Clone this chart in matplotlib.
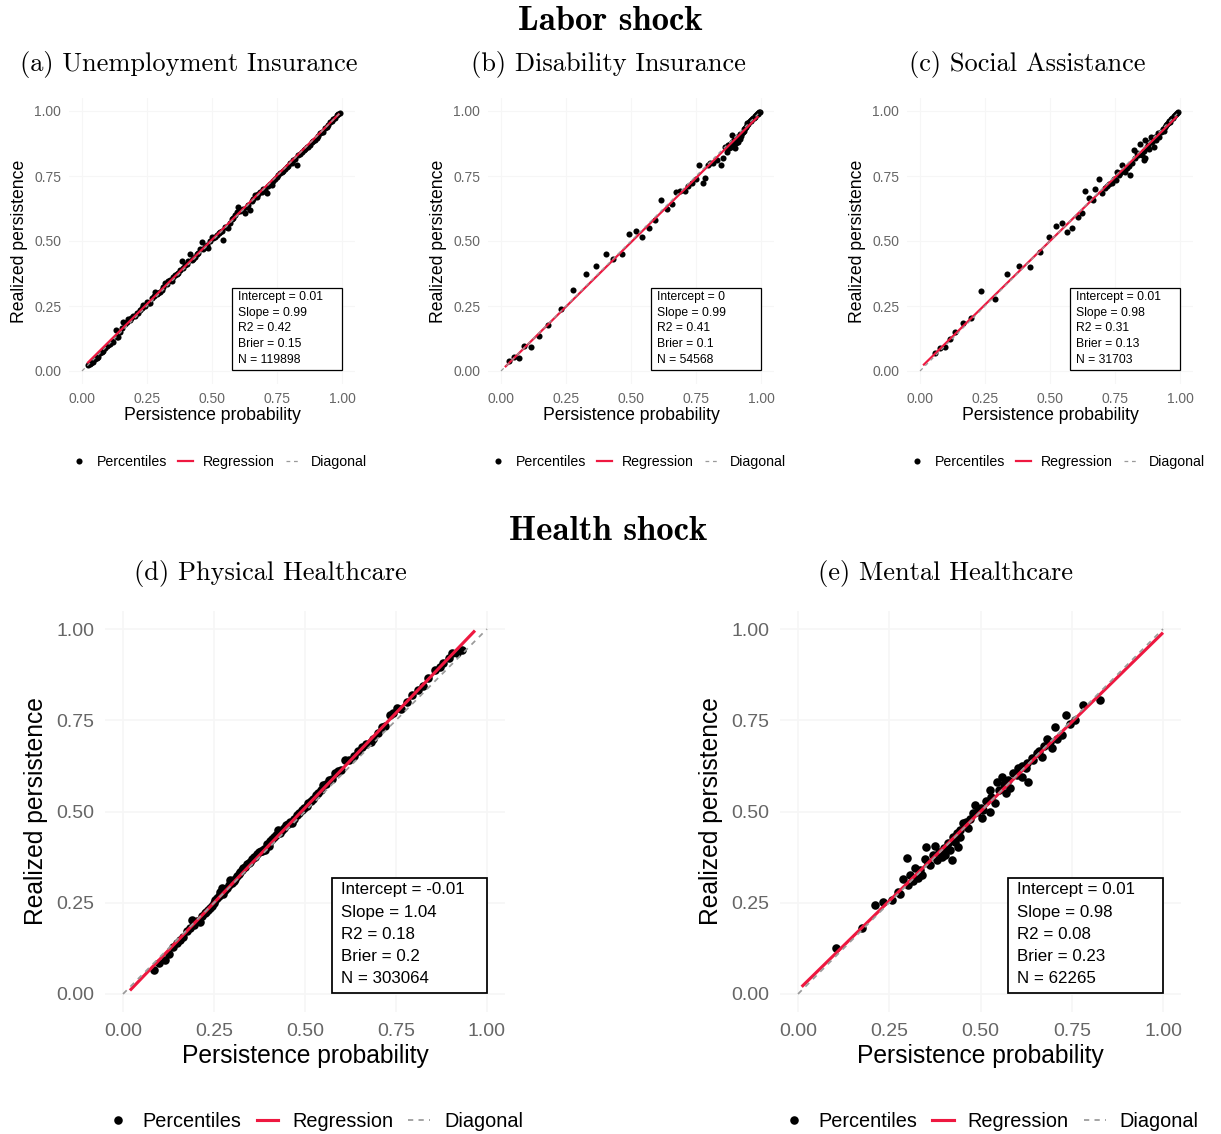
import numpy as np
import matplotlib.pyplot as plt
from matplotlib.lines import Line2D
from matplotlib.patches import Rectangle

plt.rcParams['font.family'] = ['Liberation Sans', 'DejaVu Sans']

# ---- data ----
# (a) Unemployment Insurance
ui_x = [0.024, 0.03, 0.036, 0.044, 0.05, 0.056, 0.063, 0.07, 0.076, 0.082, 0.088, 0.095, 0.1, 0.107,
        0.114, 0.12, 0.129, 0.133, 0.14, 0.147, 0.153, 0.159, 0.165, 0.172, 0.178, 0.185, 0.19, 0.197,
        0.205, 0.211, 0.217, 0.224, 0.23, 0.236, 0.243, 0.249, 0.256, 0.263, 0.27, 0.276, 0.281, 0.288,
        0.294, 0.3, 0.307, 0.313, 0.319, 0.326, 0.332, 0.338, 0.345, 0.351, 0.358, 0.365, 0.371, 0.377,
        0.383, 0.39, 0.396, 0.403, 0.409, 0.415, 0.422, 0.428, 0.435, 0.441, 0.448, 0.454, 0.46, 0.467,
        0.473, 0.48, 0.486, 0.492, 0.499, 0.505, 0.512, 0.518, 0.525, 0.531, 0.537, 0.544, 0.55, 0.556,
        0.563, 0.569, 0.575, 0.582, 0.588, 0.595, 0.601, 0.608, 0.614, 0.62, 0.627, 0.633, 0.64, 0.646,
        0.652, 0.659, 0.665, 0.672, 0.678, 0.685, 0.691, 0.698, 0.704, 0.71, 0.717, 0.723, 0.73, 0.736,
        0.742, 0.749, 0.755, 0.761, 0.768, 0.774, 0.78, 0.787, 0.793, 0.8, 0.806, 0.813, 0.82, 0.826,
        0.832, 0.839, 0.845, 0.852, 0.858, 0.864, 0.87, 0.877, 0.884, 0.89, 0.897, 0.903, 0.909, 0.916,
        0.922, 0.928, 0.935, 0.941, 0.948, 0.954, 0.96, 0.967, 0.973, 0.98, 0.986, 0.992]
ui_y = [0.023, 0.028, 0.03, 0.036, 0.045, 0.05, 0.055, 0.068, 0.072, 0.078, 0.09, 0.096, 0.1, 0.105,
        0.117, 0.112, 0.158, 0.13, 0.132, 0.15, 0.165, 0.19, 0.182, 0.188, 0.2, 0.195, 0.205, 0.212,
        0.21, 0.225, 0.222, 0.235, 0.242, 0.254, 0.25, 0.267, 0.26, 0.262, 0.28, 0.29, 0.305, 0.298,
        0.3, 0.305, 0.31, 0.322, 0.34, 0.335, 0.345, 0.35, 0.348, 0.362, 0.369, 0.372, 0.378, 0.39,
        0.423, 0.395, 0.408, 0.41, 0.425, 0.45, 0.428, 0.432, 0.44, 0.45, 0.455, 0.468, 0.497, 0.47,
        0.478, 0.485, 0.472, 0.5, 0.517, 0.51, 0.515, 0.525, 0.53, 0.536, 0.54, 0.504, 0.552, 0.555,
        0.549, 0.57, 0.585, 0.59, 0.6, 0.61, 0.632, 0.615, 0.62, 0.625, 0.606, 0.63, 0.64, 0.619,
        0.655, 0.66, 0.677, 0.67, 0.68, 0.688, 0.69, 0.7, 0.695, 0.683, 0.71, 0.72, 0.715, 0.73,
        0.74, 0.745, 0.754, 0.762, 0.767, 0.77, 0.778, 0.785, 0.79, 0.8, 0.799, 0.81, 0.815, 0.792,
        0.83, 0.835, 0.844, 0.85, 0.855, 0.86, 0.863, 0.87, 0.88, 0.885, 0.89, 0.895, 0.905, 0.915,
        0.918, 0.92, 0.935, 0.94, 0.945, 0.959, 0.962, 0.968, 0.975, 0.985, 0.99, 0.994]

# (b) Disability Insurance
di_x = [0.031, 0.051, 0.07, 0.09, 0.114, 0.146, 0.182, 0.231, 0.278, 0.326, 0.365, 0.403, 0.432, 0.464,
        0.494, 0.518, 0.542, 0.568, 0.592, 0.614, 0.637, 0.656, 0.673, 0.688, 0.708, 0.72, 0.733, 0.75,
        0.762, 0.778, 0.785, 0.797, 0.805, 0.817, 0.83, 0.845, 0.855, 0.862,
        0.868, 0.872, 0.876, 0.88, 0.884, 0.888, 0.89, 0.894, 0.897, 0.9, 0.903, 0.906, 0.909, 0.912,
        0.915, 0.918, 0.921, 0.924, 0.927, 0.93, 0.933, 0.936, 0.939, 0.942, 0.945, 0.948, 0.951, 0.954,
        0.957, 0.96, 0.963, 0.966, 0.969, 0.972, 0.975, 0.978, 0.981, 0.984, 0.987, 0.99, 0.993, 0.996]
di_y = [0.038, 0.055, 0.051, 0.096, 0.094, 0.136, 0.177, 0.24, 0.312, 0.372, 0.405, 0.449, 0.43, 0.45,
        0.528, 0.538, 0.517, 0.549, 0.581, 0.658, 0.624, 0.641, 0.687, 0.692, 0.694, 0.71, 0.722, 0.74,
        0.792, 0.722, 0.744, 0.792, 0.8, 0.799, 0.81, 0.792, 0.818, 0.863,
        0.843, 0.87, 0.856, 0.875, 0.86, 0.908, 0.88, 0.868, 0.89, 0.856, 0.878, 0.887, 0.9, 0.879,
        0.895, 0.91, 0.892, 0.905, 0.915, 0.92, 0.925, 0.93, 0.935, 0.94, 0.945, 0.952, 0.95, 0.956,
        0.96, 0.965, 0.962, 0.97, 0.972, 0.975, 0.978, 0.98, 0.984, 0.987, 0.99, 0.993, 0.996, 0.998]

# (c) Social Assistance
sa_x = [0.059, 0.078, 0.097, 0.117, 0.136, 0.164, 0.197, 0.236, 0.287, 0.335, 0.382, 0.424, 0.463, 0.495,
        0.524, 0.546, 0.565, 0.585, 0.606, 0.623, 0.633, 0.649, 0.665, 0.674, 0.687, 0.7,
        0.71, 0.72, 0.728, 0.738, 0.745, 0.752, 0.758, 0.765, 0.77, 0.777, 0.785, 0.79, 0.798, 0.803,
        0.809, 0.815, 0.822, 0.828, 0.835, 0.84, 0.847, 0.854, 0.86, 0.862, 0.867, 0.867, 0.872, 0.877,
        0.881, 0.886, 0.89, 0.894, 0.899, 0.905, 0.909, 0.913, 0.917, 0.921, 0.925, 0.929, 0.933, 0.937,
        0.941, 0.945, 0.949, 0.953, 0.957, 0.961, 0.965, 0.969, 0.973, 0.977, 0.981, 0.985, 0.989, 0.993]
sa_y = [0.068, 0.087, 0.091, 0.122, 0.151, 0.186, 0.203, 0.309, 0.276, 0.373, 0.405, 0.399, 0.456, 0.517,
        0.558, 0.568, 0.536, 0.549, 0.594, 0.607, 0.694, 0.664, 0.658, 0.699, 0.737, 0.683,
        0.705, 0.71, 0.72, 0.724, 0.74, 0.735, 0.767, 0.755, 0.76, 0.792, 0.77, 0.767, 0.78, 0.79,
        0.754, 0.8, 0.85, 0.82, 0.837, 0.83, 0.872, 0.831, 0.845, 0.81, 0.818, 0.888, 0.86, 0.87,
        0.855, 0.879, 0.9, 0.88, 0.863, 0.901, 0.89, 0.905, 0.915, 0.9, 0.92, 0.925, 0.93, 0.922,
        0.94, 0.945, 0.95, 0.955, 0.96, 0.958, 0.968, 0.972, 0.975, 0.98, 0.985, 0.99, 0.993, 0.997]

# (d) Physical Healthcare
ph_x = [0.086, 0.1, 0.115, 0.125, 0.138, 0.147, 0.156, 0.166, 0.175, 0.183, 0.189, 0.196, 0.204, 0.212,
        0.218, 0.224, 0.229, 0.234, 0.239, 0.244, 0.249, 0.254, 0.258, 0.263, 0.267, 0.271, 0.276, 0.28,
        0.285, 0.29, 0.294, 0.299, 0.304, 0.309, 0.314, 0.318, 0.322, 0.326, 0.331, 0.336, 0.34, 0.345,
        0.35, 0.355, 0.359, 0.363, 0.368, 0.373, 0.378, 0.383, 0.388, 0.39, 0.395, 0.4, 0.405, 0.41,
        0.416, 0.421, 0.427, 0.432, 0.437, 0.442, 0.448, 0.453, 0.458, 0.463, 0.47, 0.477, 0.484, 0.491,
        0.498, 0.505, 0.509, 0.516, 0.523, 0.53, 0.537, 0.544, 0.55, 0.558, 0.566, 0.574, 0.582, 0.59,
        0.598, 0.61, 0.622, 0.635, 0.645, 0.656, 0.668, 0.68, 0.688, 0.7, 0.711, 0.72, 0.734, 0.743,
        0.752, 0.765, 0.78, 0.793, 0.81, 0.825, 0.839, 0.857, 0.87, 0.88, 0.895, 0.903, 0.918, 0.93]
ph_y = [0.066, 0.085, 0.093, 0.11, 0.128, 0.139, 0.148, 0.157, 0.172, 0.18, 0.203, 0.19, 0.2, 0.198,
        0.215, 0.222, 0.226, 0.23, 0.235, 0.242, 0.25, 0.257, 0.262, 0.268, 0.28, 0.29, 0.275, 0.285,
        0.29, 0.3, 0.312, 0.305, 0.31, 0.315, 0.322, 0.328, 0.333, 0.34, 0.345, 0.348, 0.355, 0.36,
        0.362, 0.37, 0.374, 0.376, 0.384, 0.388, 0.392, 0.393, 0.398, 0.395, 0.41, 0.405, 0.418, 0.425,
        0.43, 0.435, 0.449, 0.44, 0.448, 0.455, 0.462, 0.465, 0.47, 0.468, 0.48, 0.49, 0.495, 0.505,
        0.51, 0.515, 0.522, 0.53, 0.535, 0.545, 0.55, 0.56, 0.573, 0.575, 0.585, 0.59, 0.605, 0.612,
        0.615, 0.641, 0.64, 0.652, 0.665, 0.678, 0.685, 0.69, 0.7, 0.715, 0.732, 0.735, 0.764, 0.77,
        0.783, 0.78, 0.8, 0.819, 0.832, 0.845, 0.865, 0.888, 0.895, 0.906, 0.92, 0.933, 0.935, 0.942]

# (e) Mental Healthcare
mh_x = [0.104, 0.174, 0.211, 0.234, 0.257, 0.275, 0.28, 0.289, 0.298, 0.3, 0.307, 0.315, 0.321, 0.33,
        0.335, 0.339, 0.348, 0.351, 0.355, 0.362, 0.37, 0.375, 0.38, 0.385, 0.394, 0.4, 0.403, 0.41,
        0.416, 0.421, 0.425, 0.43, 0.435, 0.439, 0.444, 0.445, 0.453, 0.46, 0.467, 0.47, 0.48, 0.485,
        0.49, 0.5, 0.503, 0.508, 0.515, 0.526, 0.526, 0.53, 0.54, 0.544, 0.55, 0.558, 0.565, 0.57,
        0.575, 0.581, 0.59, 0.6, 0.604, 0.613, 0.615, 0.625, 0.627, 0.631, 0.64, 0.645, 0.654, 0.66,
        0.668, 0.675, 0.681, 0.69, 0.695, 0.704, 0.71, 0.722, 0.734, 0.745, 0.759, 0.782, 0.827]
mh_y = [0.125, 0.18, 0.244, 0.253, 0.258, 0.28, 0.275, 0.314, 0.372, 0.3, 0.326, 0.31, 0.344, 0.317,
        0.34, 0.326, 0.369, 0.404, 0.36, 0.353, 0.38, 0.405, 0.367, 0.39, 0.376, 0.4, 0.381, 0.415,
        0.395, 0.367, 0.43, 0.417, 0.44, 0.404, 0.431, 0.45, 0.468, 0.47, 0.454, 0.48, 0.495, 0.518,
        0.5, 0.51, 0.481, 0.504, 0.53, 0.499, 0.559, 0.54, 0.522, 0.582, 0.56, 0.595, 0.575, 0.55,
        0.585, 0.564, 0.605, 0.6, 0.618, 0.595, 0.625, 0.62, 0.632, 0.582, 0.646, 0.64, 0.659, 0.665,
        0.65, 0.68, 0.7, 0.69, 0.673, 0.732, 0.7, 0.71, 0.764, 0.74, 0.751, 0.792, 0.805]

# regression coefficients and range of predicted probabilities
intercepts = [0.01, 0.0, 0.01, -0.01, 0.01]
slopes = [0.99, 0.99, 0.98, 1.04, 0.98]
fit_range = [[0.02, 0.99], [0.015, 0.99], [0.012, 0.99], [0.019, 0.967], [0.01, 1.0]]
diag = [0.0, 1.0]
stats = [["Intercept = 0.01", "Slope = 0.99", "R2 = 0.42", "Brier = 0.15", "N = 119898"],
         ["Intercept = 0", "Slope = 0.99", "R2 = 0.41", "Brier = 0.1", "N = 54568"],
         ["Intercept = 0.01", "Slope = 0.98", "R2 = 0.31", "Brier = 0.13", "N = 31703"],
         ["Intercept = -0.01", "Slope = 1.04", "R2 = 0.18", "Brier = 0.2", "N = 303064"],
         ["Intercept = 0.01", "Slope = 0.98", "R2 = 0.08", "Brier = 0.23", "N = 62265"]]
titles = ["(a) Unemployment Insurance", "(b) Disability Insurance", "(c) Social Assistance",
          "(d) Physical Healthcare", "(e) Mental Healthcare"]
ticks = [0, 0.25, 0.5, 0.75, 1.0]
tick_labels = ["0.00", "0.25", "0.50", "0.75", "1.00"]

RED = '#ee1840'
W, H = 1221, 1134
fig = plt.figure(figsize=(W / 100, H / 100), dpi=100)


def add_ax(left, top, right, bottom):
    return fig.add_axes([left / W, 1 - bottom / H, (right - left) / W, (bottom - top) / H])


def panel(ax, px, py, k, s):
    ax.set_xlim(-0.05, 1.05)
    ax.set_ylim(-0.05, 1.05)
    for sp in ax.spines.values():
        sp.set_visible(False)
    ax.set_xticks(ticks)
    ax.set_yticks(ticks)
    ax.set_xticklabels(tick_labels)
    ax.set_yticklabels(tick_labels)
    ax.tick_params(length=0, labelsize=10 * s, colors='#666666', pad=5.5 * s)
    ax.grid(color='#f6f6f6', lw=0.8 * s)
    ax.set_axisbelow(True)
    ax.plot(px, py, 'o', ms=4.4 * s, color='black', mew=0, zorder=3)
    xr = np.array(fit_range[k])
    ax.plot(xr, intercepts[k] + slopes[k] * xr, color=RED, lw=1.6 * s, zorder=4, solid_capstyle='butt')
    ax.plot(diag, diag, color='#9a9a9a', lw=0.9 * s, ls=(0, (3, 3)), zorder=5)
    ax.add_patch(Rectangle((0.575, 0.003), 0.425, 0.316, fc='white', ec='black', lw=0.9 * s, zorder=6))
    for i, line in enumerate(stats[k]):
        ax.text(0.6, 0.285 - i * 0.0605, line, fontsize=8.7 * s, va='center', ha='left', zorder=7)
    ax.text(0.5, -0.11, "Persistence probability", transform=ax.transAxes, fontsize=12.7 * s,
            ha='center', va='center')
    ax.text(-0.172, 0.5, "Realized persistence", transform=ax.transAxes, fontsize=12.7 * s,
            ha='center', va='center', rotation=90)
    handles = [Line2D([], [], marker='o', ls='none', color='black', ms=4.4 * s, mew=0),
               Line2D([], [], color=RED, lw=1.6 * s),
               Line2D([], [], color='#9a9a9a', lw=0.9 * s, ls=(0, (3, 3)))]
    ax.legend(handles, ["Percentiles", "Regression", "Diagonal"], loc='center',
              bbox_to_anchor=(0.525, -0.273), ncol=3, frameon=False, fontsize=10.2 * s,
              handlelength=1.1, handletextpad=0.7, columnspacing=0.75, borderaxespad=0)


data = [(ui_x, ui_y), (di_x, di_y), (sa_x, sa_y), (ph_x, ph_y), (mh_x, mh_y)]
rects = [(69, 98, 355, 384), (488, 98, 774, 384), (907, 98, 1193, 384),
         (104.8, 610.75, 505.2, 1012.25), (779.75, 610.75, 1181.25, 1012.25)]
for k in range(5):
    ax = add_ax(*rects[k])
    s = 1.0 if k < 3 else 1.4
    panel(ax, data[k][0], data[k][1], k, s)

fig.text(610 / W, 1 - 22 / H, "Labor shock", family='cmb10', fontsize=25, ha='center', va='center')
fig.text(608 / W, 1 - 532 / H, "Health shock", family='cmb10', fontsize=25, ha='center', va='center')
sub_pos = [(189, 64), (608, 64), (1027, 64), (270, 573), (946, 573)]
for t, (xp, yp) in zip(titles, sub_pos):
    fig.text(xp / W, 1 - yp / H, t, family='cmr10', fontsize=19, ha='center', va='center')

fig.savefig('out.png', dpi=100)
